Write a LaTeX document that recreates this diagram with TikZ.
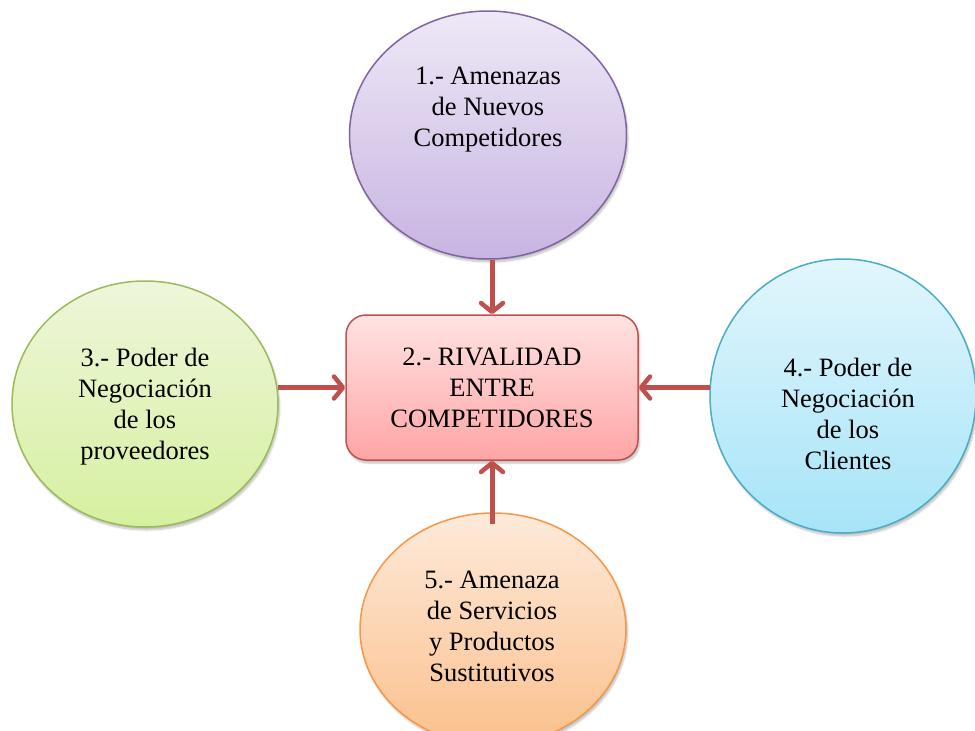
\documentclass[tikz,border=0pt]{standalone}
\usepackage{fontspec}
\setmainfont{Liberation Serif}
\usetikzlibrary{shapes.geometric,arrows.meta,shadows.blur}
\definecolor{purpB}{HTML}{8064A2}\definecolor{purpT}{HTML}{EEE8F6}\definecolor{purpD}{HTML}{C8B4E2}
\definecolor{grnB}{HTML}{9BBB59}\definecolor{grnT}{HTML}{EEF6DA}\definecolor{grnD}{HTML}{D6F0A0}
\definecolor{bluB}{HTML}{4BACC6}\definecolor{bluT}{HTML}{E2F6FD}\definecolor{bluD}{HTML}{A6E4F8}
\definecolor{orgB}{HTML}{F79646}\definecolor{orgT}{HTML}{FDEADA}\definecolor{orgD}{HTML}{FBC08C}
\definecolor{redB}{HTML}{C0504D}\definecolor{redT}{HTML}{FFE3E3}\definecolor{redD}{HTML}{FFA5A5}
\tikzset{
  txt/.style={align=center, font=\fontsize{26.5}{31}\selectfont, text=black},
  force/.style={ellipse, inner sep=0pt, line width=1.5pt, txt,
    blur shadow={shadow xshift=1.5pt, shadow yshift=-3pt, shadow opacity=25, shadow blur steps=6}},
  center box/.style={rectangle, rounded corners=20pt, inner sep=0pt, line width=1.5pt, txt,
    draw=redB, top color=redT, bottom color=redD,
    minimum width=292pt, minimum height=145pt,
    blur shadow={shadow xshift=1.5pt, shadow yshift=-3pt, shadow opacity=25, shadow blur steps=6}},
  arr/.style={draw=redB, line width=5pt,
    -{Straight Barb[length=9pt, width=22pt, line width=4.5pt, line cap=round, line join=round]}}
}
\begin{document}
\begin{tikzpicture}[x=1pt,y=-1pt]
\useasboundingbox (0,0) rectangle (975,731);
\clip (0,0) rectangle (975,731);
\node[force, draw=purpB, top color=purpT, bottom color=purpD,
  minimum width=277pt, minimum height=248pt] (top) at (488,135) {};
\node[txt] (toptext) at (488,110) {1.- Amenazas\\de Nuevos\\Competidores};
\node[force, draw=grnB, top color=grnT, bottom color=grnD,
  minimum width=266pt, minimum height=246pt] (left) at (145,404) {};
\node[txt] (lefttext) at (145,407) {3.- Poder de\\Negociación\\de los\\proveedores};
\node[force, draw=bluB, top color=bluT, bottom color=bluD,
  minimum width=266pt, minimum height=274pt] (right) at (843,396) {};
\node[txt] (righttext) at (848,414) {4.- Poder de\\Negociación\\de los\\Clientes};
\node[force, draw=orgB, top color=orgT, bottom color=orgD,
  minimum width=266pt, minimum height=232pt] (bottom) at (493,629) {};
\node[txt] (bottomtext) at (492,626) {5.- Amenaza\\de Servicios\\y Productos\\Sustitutivos};
\node[center box] (rect) at (492,387.5) {2.- RIVALIDAD\\ENTRE\\COMPETIDORES};
\draw[arr] (rect.north |- top.south) -- (rect.north);
\draw[arr] ([xshift=-1pt]left.east |- rect.west) -- (rect.west);
\draw[arr] ([xshift=1pt]right.west |- rect.east) -- (rect.east);
\draw[arr] ([yshift=-12pt]rect.south |- bottom.north) -- (rect.south);
\end{tikzpicture}
\end{document}
